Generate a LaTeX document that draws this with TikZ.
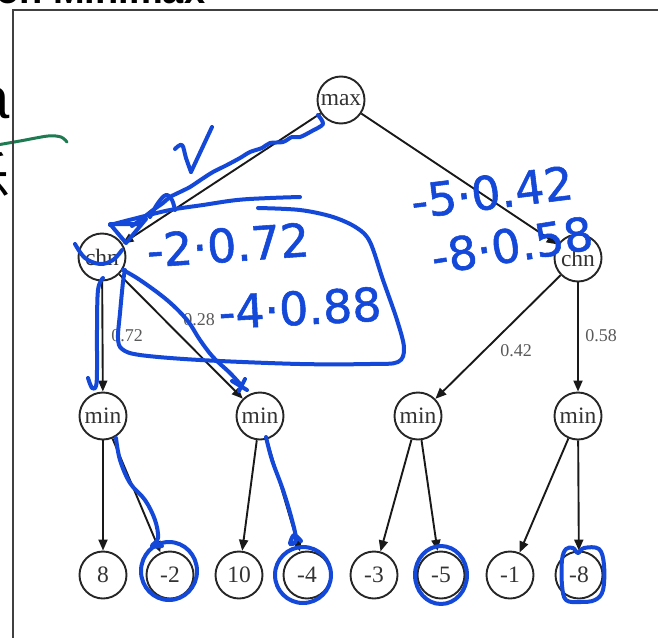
\documentclass[tikz,border=0pt]{standalone}
\usepackage{fontspec}
\setmainfont{Liberation Serif}
\newfontfamily\handfont[FakeBold=1.2]{DejaVu Sans}
\newfontfamily\titlefont{Liberation Sans}
\newfontfamily\cjkfont{Noto Sans CJK SC}
\usetikzlibrary{arrows.meta}
\definecolor{inkblue}{HTML}{1448D8}
\definecolor{inkgreen}{HTML}{1E7A50}
\begin{document}
\begin{tikzpicture}[x=1pt,y=-1pt,
  gnode/.style={circle,draw=black!85,line width=1.9pt,minimum size=47pt,inner sep=0pt,font=\fontsize{23.5}{23.5}\selectfont,text=black!80},
  lbl/.style={font=\fontsize{18}{18}\selectfont,text=black!65,inner sep=0pt},
  arr/.style={draw=black!90,line width=1.9pt,-{Triangle[length=11pt,width=9pt]}},
  ink/.style={draw=inkblue,line width=4pt,line cap=round,line join=round},
  hand/.style={text=inkblue,font=\handfont\fontsize{46}{46}\selectfont,inner sep=0pt}]
\useasboundingbox (0,0) rectangle (658,637);
\fill[white] (0,0) rectangle (658,637);

% cut-off surroundings of the screenshot
\node[anchor=base west,inner sep=0pt,font=\titlefont\bfseries\fontsize{38}{38}\selectfont] (title) at (-4,3) {on Minimax};
\node[anchor=base east,inner sep=0pt,font=\titlefont\fontsize{58}{58}\selectfont] (lefta) at (10,118) {a};
\node[anchor=east,inner sep=0pt,font=\cjkfont\fontsize{52}{52}\selectfont] (leftc) at (11,176) {乐};
\draw[inkgreen,line width=3pt,line cap=round] plot[smooth] coordinates {(-3,145) (20,141) (48,136) (61,137) (67,142)};

% frame
\draw[black!75,line width=1.6pt] (660,10) -- (13,10) -- (13,640);

% nodes
\node[gnode] (max) at (341,100) {max};
\node[gnode] (c1) at (102,257) {chn};
\node[gnode] (c2) at (578,258) {chn};
\node[gnode] (m1) at (103,416) {min};
\node[gnode] (m2) at (260,416) {min};
\node[gnode] (m3) at (418,416) {min};
\node[gnode] (m4) at (578,416) {min};
\node[gnode] (l1) at (103,575) {8};
\node[gnode] (l2) at (170,575) {-2};
\node[gnode] (l3) at (239,575) {10};
\node[gnode] (l4) at (307,575) {-4};
\node[gnode] (l5) at (374,575) {-3};
\node[gnode] (l6) at (441,575) {-5};
\node[gnode] (l7) at (510,575) {-1};
\node[gnode] (l8) at (579,575) {-8};

% edges
\draw[arr] (max) -- (c1);
\draw[arr] (max) -- (c2);
\draw[arr] (c1) -- (m1);
\draw[arr] (c1) -- (m2);
\draw[arr] (c2) -- (m3);
\draw[arr] (c2) -- (m4);
\draw[arr] (m1) -- (l1);
\draw[arr] (m1) -- (l2);
\draw[arr] (m2) -- (l3);
\draw[arr] (m2) -- (l4);
\draw[arr] (m3) -- (l5);
\draw[arr] (m3) -- (l6);
\draw[arr] (m4) -- (l7);
\draw[arr] (m4) -- (l8);

% edge labels
\node[lbl] (p1) at (127,336) {0.72};
\node[lbl] (p2) at (199,320) {0.28};
\node[lbl] (p3) at (516,351) {0.42};
\node[lbl] (p4) at (601,336) {0.58};

% blue handwriting
\draw[ink] plot[smooth,tension=0.6] coordinates {(175,149) (182,145) (186,158) (191,172)};
\draw[ink] (191,172) -- (212,127);
\draw[ink] plot[smooth,tension=0.5] coordinates {(318,115) (323,124) (312,131) (300,137) (292,137) (283,142) (270,143) (262,148) (250,152) (240,158) (227,165) (213,172) (202,179) (190,187) (180,192) (170,197) (163,203) (153,210) (143,218) (132,226)};
\draw[ink] (140,224) -- (110,224) -- (126,243) -- (146,219);
\draw[ink] plot[smooth,tension=0.6] coordinates {(150,217) (158,203) (166,195) (172,200) (175,210)};
\draw[ink] plot[smooth,tension=0.6] coordinates {(110,225) (137,218) (170,210) (203,205) (237,200) (270,198) (300,197)};
\draw[ink] plot[smooth,tension=0.55] coordinates {(258,208) (300,210) (333,217) (357,228) (370,242) (383,280) (397,320) (404,348) (398,362) (370,364) (300,364) (200,360) (140,355) (122,349) (118,338) (120,313) (123,282) (125,270)};
\draw[ink] plot[smooth,tension=0.6] coordinates {(123,270) (140,280) (167,300) (187,320) (200,340) (213,357) (230,373) (241,385)};
\draw[ink] (232,381) -- (247,390);
\draw[ink] (239,391) -- (245,379);
\draw[ink] plot[smooth,tension=0.6] coordinates {(103,278) (98,290) (97,330) (97,370) (96,386) (92,388) (88,378)};
\draw[ink] plot[smooth,tension=0.6] coordinates {(75,244) (85,258) (100,264) (113,260) (122,250)};
\draw[ink] plot[smooth,tension=0.6] coordinates {(116,438) (120,460) (130,483) (145,500) (155,520) (158,538) (152,546) (162,546)};
\draw[ink] plot[smooth,tension=0.6] coordinates {(266,437) (272,460) (283,490) (292,520) (296,540) (290,544) (294,535) (301,541)};
\draw[ink] (169,571) ellipse [x radius=28, y radius=29];
\draw[ink] (303,575) ellipse [x radius=28, y radius=28];
\draw[ink] (441,575) ellipse [x radius=26, y radius=29];
\draw[ink] plot[smooth cycle,tension=0.6] coordinates {(562,560) (566,549) (573,548) (578,553) (584,548) (599,549) (604,565) (603,590) (595,600) (580,602) (566,600) (562,585)};

\node[hand,rotate=4] (h1) at (228,245) {-2·0.72};
\node[hand,rotate=3] (h2) at (300,308) {-4·0.88};
\node[hand,rotate=7] (h3) at (492,192) {-5·0.42};
\node[hand,rotate=9] (h4) at (512,245) {-8·0.58};
\end{tikzpicture}
\end{document}
